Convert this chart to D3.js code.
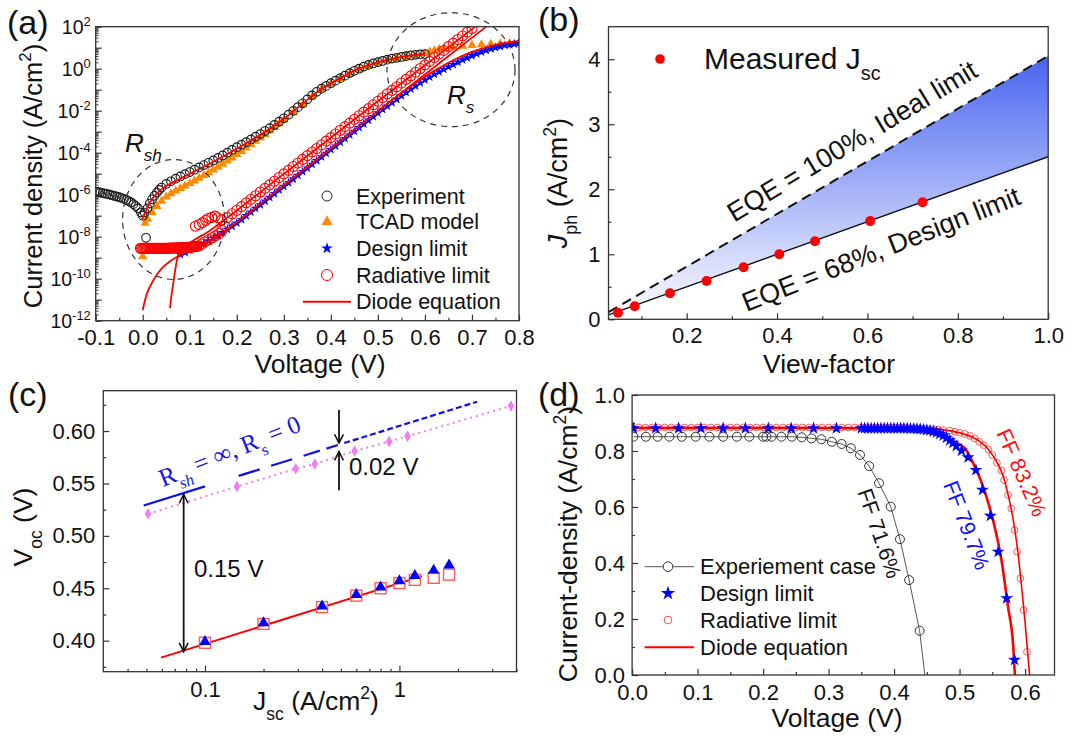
<!DOCTYPE html>
<html>
<head>
<meta charset="utf-8">
<script src="https://cdn.jsdelivr.net/npm/d3@7/dist/d3.min.js"></script>
<style>
  body { margin: 0; background: #fff; }
  svg { display: block; font-family: "Liberation Sans", Arial, sans-serif; }
</style>
</head>
<body>
<svg id="fig" width="1071" height="736"></svg>
<script>
// ---------- (a) dark J-V, values are [V, log10 J(A/cm2)] ----------
const experimentA = [
  [-0.1,-5.85],[-0.095,-5.87],[-0.09,-5.9],[-0.085,-5.92],[-0.08,-5.95],[-0.075,-5.97],[-0.07,-6.0],[-0.065,-6.03],
  [-0.06,-6.06],[-0.055,-6.09],[-0.05,-6.12],[-0.045,-6.16],[-0.04,-6.2],[-0.035,-6.25],[-0.03,-6.3],[-0.025,-6.37],
  [-0.02,-6.45],[-0.015,-6.54],[-0.01,-6.65],[-0.004,-6.85],[0.0,-7.0],[0.007,-8.05],
  [0.004,-6.85],[0.01,-6.65],[0.015,-6.42],[0.02,-6.22],[0.025,-6.05],[0.03,-5.9],[0.035,-5.77],[0.04,-5.66],
  [0.05,-5.49],[0.06,-5.36],[0.07,-5.24],
  [0.08,-5.13],[0.09,-5.02],[0.1,-4.92],[0.11,-4.81],[0.12,-4.7],[0.13,-4.59],[0.14,-4.48],[0.15,-4.37],
  [0.16,-4.25],[0.17,-4.13],[0.18,-4.0],[0.19,-3.87],[0.2,-3.74],[0.21,-3.62],[0.22,-3.5],[0.23,-3.37],
  [0.24,-3.24],[0.25,-3.11],[0.26,-2.97],[0.27,-2.83],[0.28,-2.68],[0.29,-2.52],[0.3,-2.36],[0.31,-2.19],
  [0.32,-2.01],[0.33,-1.83],[0.34,-1.65],[0.35,-1.46],[0.36,-1.27],[0.37,-1.1],[0.38,-0.95],[0.39,-0.82],
  [0.4,-0.69],[0.41,-0.57],[0.42,-0.45],[0.43,-0.33],[0.44,-0.21],[0.45,-0.1],[0.46,0.0],[0.47,0.1],
  [0.48,0.18],[0.49,0.25],[0.5,0.31],[0.51,0.37],[0.52,0.43],[0.53,0.48],[0.54,0.52],[0.55,0.56],
  [0.56,0.6],[0.57,0.63],[0.58,0.66],[0.59,0.68],[0.6,0.7]
]
const tcadA = [
  [0.0,-8.95],[0.005,-7.35],[0.01,-7.15],[0.02,-6.85],[0.03,-6.55],[0.04,-6.3],[0.05,-6.1],[0.06,-5.95],
  [0.07,-5.82],[0.08,-5.7],[0.09,-5.58],[0.1,-5.46],[0.11,-5.34],[0.12,-5.21],[0.13,-5.08],[0.14,-4.95],
  [0.15,-4.82],[0.16,-4.68],[0.17,-4.54],[0.18,-4.39],[0.19,-4.24],[0.2,-4.08],[0.21,-3.93],[0.22,-3.77],
  [0.23,-3.61],[0.24,-3.45],[0.25,-3.29],[0.26,-3.13],[0.27,-2.96],[0.28,-2.79],[0.29,-2.62],[0.3,-2.45],
  [0.32,-2.09],[0.34,-1.71],[0.36,-1.33],[0.38,-0.99],[0.4,-0.72],[0.42,-0.48],[0.44,-0.25],[0.46,-0.04],
  [0.48,0.13],[0.5,0.28],[0.52,0.4],[0.54,0.5],[0.56,0.58],[0.58,0.65],[0.6,0.72],[0.61,0.8],[0.62,0.86],
  [0.63,0.92],[0.64,0.96],[0.66,1.03],[0.68,1.08],[0.7,1.12],[0.72,1.15],[0.74,1.17],[0.76,1.19],[0.78,1.2],[0.8,1.21]
]
const designA = [
  [0.08,-8.85],[0.09,-8.75],[0.1,-8.65],[0.11,-8.55],[0.12,-8.45],[0.13,-8.33],[0.14,-8.2],[0.15,-8.08],
  [0.16,-7.95],[0.17,-7.8],[0.18,-7.65],[0.19,-7.5],[0.2,-7.35],[0.21,-7.18],[0.22,-7.0],[0.23,-6.83],
  [0.24,-6.65],[0.25,-6.48],[0.26,-6.3],[0.27,-6.13],[0.28,-5.95],[0.29,-5.78],[0.3,-5.6],[0.31,-5.43],
  [0.32,-5.25],[0.33,-5.08],[0.34,-4.9],[0.35,-4.73],[0.36,-4.55],[0.37,-4.38],[0.38,-4.2],[0.39,-4.03],
  [0.4,-3.85],[0.41,-3.68],[0.42,-3.5],[0.43,-3.33],[0.44,-3.15],[0.45,-2.98],[0.46,-2.8],[0.47,-2.63],
  [0.48,-2.45],[0.49,-2.28],[0.5,-2.1],[0.51,-1.94],[0.52,-1.78],[0.53,-1.61],[0.54,-1.45],[0.55,-1.29],
  [0.56,-1.13],[0.57,-0.97],[0.58,-0.82],[0.59,-0.67],[0.6,-0.53],[0.61,-0.4],[0.62,-0.27],[0.63,-0.15],
  [0.64,-0.03],[0.65,0.09],[0.66,0.2],[0.67,0.31],[0.68,0.42],[0.69,0.52],[0.7,0.62],[0.71,0.71],
  [0.72,0.8],[0.73,0.88],[0.74,0.95],[0.75,1.01],[0.76,1.06],[0.77,1.11],[0.78,1.15],[0.79,1.18],[0.8,1.21]
]
const radiativeA = [
  [-0.005,-8.55],[-0.0025,-8.55],[0.0,-8.55],[0.0025,-8.55],[0.005,-8.55],[0.0075,-8.55],[0.01,-8.55],
  [0.0125,-8.55],[0.015,-8.55],[0.0175,-8.55],[0.02,-8.55],[0.0225,-8.55],[0.025,-8.55],[0.0275,-8.55],
  [0.03,-8.55],[0.0325,-8.55],[0.035,-8.55],[0.0375,-8.55],[0.04,-8.55],[0.0425,-8.55],[0.045,-8.55],
  [0.0475,-8.55],[0.05,-8.55],[0.0525,-8.55],[0.055,-8.55],[0.0575,-8.54],[0.06,-8.54],[0.0625,-8.54],
  [0.065,-8.54],[0.0675,-8.54],[0.07,-8.54],[0.0725,-8.53],[0.075,-8.53],[0.0775,-8.53],[0.08,-8.53],
  [0.0825,-8.52],[0.085,-8.52],[0.0875,-8.52],[0.09,-8.52],[0.0925,-8.51],[0.095,-8.51],[0.0975,-8.5],
  [0.1,-8.5],[0.1025,-8.49],[0.105,-8.49],[0.1075,-8.48],[0.11,-8.48],[0.1125,-8.47],[0.115,-8.46],[0.12,-8.44],
  [0.125,-8.35],[0.132,-8.25],[0.14,-8.15],[0.148,-8.05],[0.155,-7.95],[0.162,-7.85],[0.168,-7.7],[0.175,-7.5],
  [0.112,-7.5],[0.12,-7.42],[0.127,-7.33],[0.134,-7.22],[0.14,-7.12],[0.147,-7.08],[0.154,-7.02],[0.16,-7.1],[0.168,-7.2],
  [0.18,-7.09],[0.19,-6.91],[0.2,-6.74],[0.21,-6.57],[0.22,-6.39],[0.23,-6.22],[0.24,-6.05],[0.25,-5.87],
  [0.26,-5.7],[0.27,-5.53],[0.28,-5.36],[0.29,-5.18],[0.3,-5.01],[0.31,-4.84],[0.32,-4.66],[0.33,-4.49],
  [0.34,-4.32],[0.35,-4.14],[0.36,-3.97],[0.37,-3.8],[0.38,-3.63],[0.39,-3.45],[0.4,-3.28],[0.41,-3.11],
  [0.42,-2.93],[0.43,-2.76],[0.44,-2.59],[0.45,-2.41],[0.46,-2.24],[0.47,-2.07],[0.48,-1.9],[0.49,-1.72],
  [0.5,-1.55],[0.51,-1.38],[0.52,-1.2],[0.53,-1.03],[0.54,-0.86],[0.55,-0.68],[0.56,-0.51],[0.57,-0.34],
  [0.58,-0.17],[0.59,0.01],[0.6,0.18],[0.61,0.35],[0.62,0.53],[0.63,0.7],[0.64,0.87],[0.65,1.05],
  [0.66,1.22],[0.67,1.39],[0.68,1.56],[0.69,1.74],[0.7,1.91]
]
const diodeFitA = [
  [-0.002,-7.2],[0.005,-6.85],[0.012,-6.5],[0.02,-6.2],[0.03,-5.95],[0.045,-5.65],[0.066,-5.4],[0.1,-5.0],
  [0.14,-4.55],[0.18,-4.06],[0.22,-3.55],[0.26,-3.0],[0.3,-2.38],[0.34,-1.66],[0.38,-0.97],[0.42,-0.45],
  [0.46,0.0],[0.5,0.31],[0.54,0.52],[0.57,0.63],[0.6,0.7]
]
const diodeRadA = [
  [0.058,-11.4],[0.061,-10.8],[0.064,-10.35],[0.068,-9.75],[0.072,-9.2],[0.078,-8.75],[0.09,-8.45],
  [0.11,-8.15],[0.14,-7.75],[0.18,-7.09],[0.3,-5.01],[0.5,-1.55],[0.707,2.0]
]
const diodeDesignA = [
  [0.0,-11.5],[0.004,-11.1],[0.009,-10.7],[0.016,-10.35],[0.023,-10.06],[0.033,-9.72],[0.044,-9.43],
  [0.058,-9.17],[0.073,-8.95],[0.087,-8.78],[0.101,-8.63],[0.12,-8.45],[0.137,-8.28],[0.16,-7.95],
  [0.2,-7.3],[0.3,-5.55],[0.4,-3.8],[0.5,-2.02],[0.6,-0.28],[0.73,2.0]
]
const diodeRsA = [
  [0.5,-2.02],[0.54,-1.33],[0.58,-0.68],[0.62,-0.1],[0.66,0.4],[0.7,0.8],[0.74,1.08],[0.78,1.26],[0.8,1.32]
]
const legendA = ["Experiment", "TCAD model", "Design limit", "Radiative limit", "Diode equation"]
const decadesA = [-12, -11, -10, -9, -8, -7, -6, -5, -4, -3, -2, -1, 0, 1, 2]

// ---------- (b) photocurrent vs view-factor ----------
const viewFactor = [0.048, 0.085, 0.163, 0.244, 0.326, 0.405, 0.484, 0.606, 0.722]
const jscMeasured = [0.1, 0.2, 0.4, 0.59, 0.8, 1.0, 1.2, 1.51, 1.8]
const idealLine = [[0.027, 0.11], [1.0, 4.05]]
const designLine = [[0.027, 0.068], [1.0, 2.5]]

// ---------- (c) Voc vs Jsc ----------
const jscC = [0.1, 0.2, 0.4, 0.6, 0.8, 1.0, 1.2, 1.5, 1.8]
const vocTriangle = [0.399, 0.417, 0.433, 0.444, 0.451, 0.457, 0.462, 0.467, 0.472]
const vocSquare = [0.398, 0.416, 0.432, 0.443, 0.45, 0.455, 0.458, 0.46, 0.463]
const jscDiamond = [0.051, 0.146, 0.293, 0.367, 0.588, 0.885, 1.1, 3.75]
const vocDiamond = [0.521, 0.547, 0.564, 0.5685, 0.581, 0.59, 0.595, 0.624]
const idealFitC = [[0.0484, 0.529], [2.51, 0.628]]
const diodeFitC = [[0.0594, 0.3838], [1.305, 0.4616]]
// pieces of the ideal line: [Jsc from, Jsc to, dash]
const idealPiecesC = [[0.0484, 0.1, null], [0.149, 0.34, "22,12"], [0.34, 0.52, "12,7"], [0.52, 2.51, "6,3"]]

// ---------- (d) J-V under illumination ----------
const experimentD = [
  [0.002,0.851],[0.021,0.851],[0.039,0.851],[0.057,0.851],[0.076,0.851],[0.097,0.851],[0.118,0.851],
  [0.139,0.851],[0.16,0.851],[0.179,0.851],[0.2,0.851],[0.205,0.851],[0.213,0.851],[0.228,0.851],
  [0.244,0.851],[0.259,0.849],[0.274,0.845],[0.289,0.842],[0.305,0.833],[0.32,0.825],[0.334,0.81],
  [0.348,0.786],[0.362,0.746],[0.377,0.685],[0.395,0.601],[0.409,0.485],[0.423,0.339],[0.439,0.158]
]
const experimentEndD = [0.447, 0.0]
const designD = [
  [0.002,0.881],[0.036,0.881],[0.071,0.881],[0.105,0.881],[0.139,0.881],[0.173,0.881],[0.208,0.881],
  [0.243,0.881],[0.277,0.881],[0.312,0.881],
  [0.35,0.881],[0.355,0.881],[0.36,0.881],[0.365,0.881],[0.37,0.881],[0.375,0.881],[0.38,0.881],
  [0.385,0.881],[0.39,0.881],[0.395,0.881],[0.4,0.881],[0.405,0.881],[0.41,0.881],[0.415,0.881],
  [0.42,0.881],[0.425,0.88],[0.43,0.88],[0.435,0.879],[0.44,0.878],[0.445,0.877],[0.45,0.875],
  [0.455,0.873],[0.46,0.87],[0.465,0.866],[0.47,0.861],[0.475,0.855],[0.48,0.847],[0.485,0.838],
  [0.49,0.829],[0.495,0.818],
  [0.503,0.801],[0.513,0.777],[0.525,0.732],[0.535,0.661],[0.547,0.568],[0.559,0.44],[0.572,0.274],[0.584,0.054]
]
const radiativeD = [
  [0.0,0.884],[0.01,0.884],[0.02,0.884],[0.03,0.884],[0.04,0.884],[0.05,0.884],[0.06,0.884],[0.07,0.884],
  [0.08,0.884],[0.09,0.884],[0.1,0.884],[0.11,0.884],[0.12,0.884],[0.13,0.884],[0.14,0.884],[0.15,0.884],
  [0.16,0.884],[0.17,0.884],[0.18,0.884],[0.19,0.884],[0.2,0.884],[0.21,0.884],[0.22,0.884],[0.23,0.884],
  [0.24,0.884],[0.25,0.884],[0.26,0.884],[0.27,0.884],[0.28,0.884],[0.29,0.884],[0.3,0.884],[0.31,0.884],
  [0.32,0.884],[0.33,0.884],[0.34,0.884],[0.35,0.884],[0.36,0.884],[0.37,0.884],[0.38,0.884],[0.39,0.884],
  [0.4,0.884],[0.41,0.884],[0.42,0.883],[0.43,0.882],[0.44,0.881],[0.45,0.88],[0.46,0.878],[0.467,0.877],
  [0.475,0.875],[0.485,0.873],[0.493,0.869],[0.5,0.865],[0.508,0.861],[0.516,0.854],[0.523,0.845],
  [0.53,0.833],[0.537,0.821],[0.544,0.806],[0.55,0.786],[0.557,0.758],[0.564,0.73],[0.568,0.696],
  [0.574,0.643],[0.579,0.595],[0.584,0.518],[0.588,0.44],[0.593,0.345],[0.598,0.232],[0.603,0.083]
]
const diodeDesignD = [
  [0.0,0.882],[0.3,0.882],[0.42,0.88],[0.46,0.87],[0.49,0.835],[0.508,0.81],[0.521,0.756],[0.536,0.673],
  [0.551,0.554],[0.564,0.411],[0.574,0.244],[0.582,0.101],[0.5845,0.0]
]
const diodeRadD = [
  [0.0,0.884],[0.45,0.883],[0.48,0.874],[0.5,0.865],[0.52,0.849],[0.531,0.834],[0.544,0.806],[0.557,0.76],
  [0.566,0.715],[0.574,0.645],[0.58,0.58],[0.585,0.51],[0.59,0.42],[0.595,0.31],[0.6,0.19],[0.604,0.08],[0.607,0.0]
]
const legendD = ["Experiement case", "Design limit", "Radiative limit", "Diode equation"]
const fillFactors = [["FF 71.6%", 0.378, 0.506, 71, "#111"], ["FF 79.7%", 0.511, 0.535, 69, "#1010ff"], ["FF 83.2%", 0.595, 0.723, 66, "#ff1010"]]

//////////////////////////////////////////////////////////////////////////

const svg = d3.select("#fig")
const ink = "#111"
const FONT = '"Liberation Sans", Arial, sans-serif'
const RED = "#ff0000", BLUE = "#0000ff", ORANGE = "#ff8a00", VIOLET = "#f07ef0"
const TICK = 22, TITLE = 26.5

svg.append("rect").attr("width", 1071).attr("height", 736).attr("fill", "#fff")
const defs = svg.append("defs")

function rich (sel, fs, parts) {
  let shift = 0
  for (const [t, mode, style] of parts) {
    const off = mode === "sup" ? -0.42 * fs : mode === "sub" ? 0.36 * fs : 0
    const ts = sel.append("tspan").attr("dy", off - shift).text(t)
    if (mode) ts.attr("font-size", fs * 0.66)
    if (style) ts.attr("font-style", style)
    shift = off
  }
  return sel
}

const fmt = f => d => d3.format(f)(d).replace("\u2212", "-")

function axis (g, gen, tr) {
  const a = g.append("g").attr("transform", tr).call(gen)
    .attr("font-family", FONT).attr("font-size", TICK)
  a.select(".domain").remove()
  a.selectAll(".tick line").attr("stroke", "#333").attr("stroke-width", 1.2)
  a.selectAll(".tick text").attr("fill", ink)
  return a
}

function frame (g, b) {
  g.append("rect").attr("x", b.l).attr("y", b.t).attr("width", b.r - b.l).attr("height", b.b - b.t)
    .attr("fill", "none").attr("stroke", "#333").attr("stroke-width", 1.3)
}

function clip (id, b) {
  defs.append("clipPath").attr("id", id).append("rect")
    .attr("x", b.l).attr("y", b.t).attr("width", b.r - b.l).attr("height", b.b - b.t)
  return "url(#" + id + ")"
}

function title (g, x, y, fs, parts, rot) {
  const t = g.append("text").attr("x", x).attr("y", y).attr("font-size", fs)
    .attr("text-anchor", "middle").attr("fill", ink)
  if (rot) t.attr("transform", `rotate(${rot},${x},${y})`)
  return rich(t, fs, parts)
}

function panelLabel (x, y, s) {
  svg.append("text").attr("x", x).attr("y", y).attr("font-size", 34).attr("fill", ink).text(s)
}

const star = s => d3.symbol().type(d3.symbolStar).size(s)()
const tri = s => d3.symbol().type(d3.symbolTriangle).size(s)()

// =============================== (a) ===============================
{
  const b = {l: 95.7, r: 519, t: 26.7, b: 320.7}
  const x = d3.scaleLinear().domain([-0.1, 0.8]).range([b.l, b.r])
  const y = d3.scaleLog().domain([1e-12, 1e2]).range([b.b, b.t])
  const g = svg.append("g")
  const px = d => x(d[0]), py = d => y(10 ** d[1])

  axis(g, d3.axisBottom(x).tickValues(d3.range(-1, 9).map(i => i / 10)).tickFormat(fmt(".1f"))
    .tickSize(-6).tickPadding(9), `translate(0,${b.b})`)
  axis(g, d3.axisBottom(x).tickValues(d3.range(-1, 8).map(i => i / 10 + 0.05)).tickFormat("")
    .tickSize(-3), `translate(0,${b.b})`)
  axis(g, d3.axisLeft(y).tickValues(decadesA.map(e => 10 ** e)).tickFormat("").tickSize(-6), `translate(${b.l},0)`)
  const minorA = decadesA.slice(0, -1).flatMap(e => [2, 3, 4, 5, 6, 7, 8, 9].map(m => m * 10 ** e))
  axis(g, d3.axisLeft(y).tickValues(minorA).tickFormat("").tickSize(-3), `translate(${b.l},0)`)
    .selectAll(".tick line").attr("stroke-width", 0.9)
  decadesA.filter(e => e % 2 === 0).forEach(e => {
    const t = g.append("text").attr("x", b.l - 5).attr("y", y(10 ** e) + 7)
      .attr("text-anchor", "end").attr("font-size", 19.5).attr("fill", ink)
    rich(t, 19.5, [["10"], [String(e), "sup"]])
  })

  const c = g.append("g").attr("clip-path", clip("clipA", b))
  c.append("g").selectAll("path").data(tcadA).join("path")
    .attr("d", tri(38)).attr("fill", ORANGE)
    .attr("transform", d => `translate(${px(d)},${py(d)})`)
  c.append("g").selectAll("circle").data(experimentA).join("circle")
    .attr("cx", px).attr("cy", py).attr("r", 4.3)
    .attr("fill", "none").attr("stroke", "#1a1a1a").attr("stroke-width", 1.15)
  c.append("g").selectAll("path").data(designA).join("path")
    .attr("d", star(30)).attr("fill", BLUE)
    .attr("transform", d => `translate(${px(d)},${py(d)})`)
  c.append("g").selectAll("circle").data(radiativeA).join("circle")
    .attr("cx", px).attr("cy", py).attr("r", 5)
    .attr("fill", "none").attr("stroke", RED).attr("stroke-width", 1.1)
  const line = d3.line().x(px).y(py).curve(d3.curveMonotoneX)
  for (const s of [diodeFitA, diodeRadA, diodeDesignA, diodeRsA]) {
    c.append("path").datum(s).attr("d", line).attr("fill", "none").attr("stroke", RED).attr("stroke-width", 1.8)
  }

  // dashed guide ellipses
  g.append("ellipse").attr("cx", 173.6).attr("cy", 219.5).attr("rx", 51).attr("ry", 60)
    .attr("fill", "none").attr("stroke", "#333").attr("stroke-width", 1.2).attr("stroke-dasharray", "6,5")
  g.append("ellipse").attr("cx", 451).attr("cy", 69.7).attr("rx", 64).attr("ry", 57)
    .attr("fill", "none").attr("stroke", "#333").attr("stroke-width", 1.2).attr("stroke-dasharray", "6,5")
  rich(g.append("text").attr("x", 125).attr("y", 152).attr("font-size", 26).attr("font-style", "italic").attr("fill", ink),
    26, [["R"], ["sh", "sub"]])
  rich(g.append("text").attr("x", 447).attr("y", 104).attr("font-size", 26).attr("font-style", "italic").attr("fill", ink),
    26, [["R"], ["s", "sub"]])

  // legend
  const rows = [196, 221.7, 248.3, 275, 301.7]
  const lg = g.append("g")
  lg.append("circle").attr("cx", 327).attr("cy", rows[0]).attr("r", 5).attr("fill", "none").attr("stroke", "#222")
  lg.append("path").attr("d", tri(55)).attr("fill", ORANGE).attr("transform", `translate(327,${rows[1]})`)
  lg.append("path").attr("d", star(42)).attr("fill", BLUE).attr("transform", `translate(327,${rows[2]})`)
  lg.append("circle").attr("cx", 327).attr("cy", rows[3]).attr("r", 5.5).attr("fill", "none").attr("stroke", RED)
  lg.append("line").attr("x1", 303).attr("x2", 351).attr("y1", rows[4]).attr("y2", rows[4]).attr("stroke", RED).attr("stroke-width", 2)
  lg.selectAll("text").data(legendA).join("text")
    .attr("x", 356).attr("y", (d, i) => rows[i] + 7.5).attr("font-size", 21.5).attr("fill", ink).text(d => d)

  frame(g, b)
  title(g, 320, 373, TITLE, [["Voltage (V)"]])
  title(g, 42, 176, 25.5, [["Current density (A/cm"], ["2", "sup"], [")"]], -90)
  panelLabel(7, 34, "(a)")
}

// =============================== (b) ===============================
{
  const b = {l: 608.5, r: 1048.2, t: 26.7, b: 319.3}
  const x = d3.scaleLinear().domain([0.027, 1.0]).range([b.l, b.r])
  const y = d3.scaleLinear().domain([0, 4.5]).range([b.b, b.t])
  const g = svg.append("g")

  axis(g, d3.axisBottom(x).tickValues([0.2, 0.4, 0.6, 0.8, 1.0]).tickFormat(d3.format(".1f"))
    .tickSize(-6).tickPadding(8), `translate(0,${b.b})`)
  axis(g, d3.axisBottom(x).tickValues([0.1, 0.3, 0.5, 0.7, 0.9]).tickFormat("").tickSize(-3), `translate(0,${b.b})`)
  axis(g, d3.axisLeft(y).tickValues([0, 1, 2, 3, 4]).tickFormat(d3.format("d"))
    .tickSize(-6).tickPadding(8), `translate(${b.l},0)`)
  axis(g, d3.axisLeft(y).tickValues([0.5, 1.5, 2.5, 3.5]).tickFormat("").tickSize(-3), `translate(${b.l},0)`)

  const grad = defs.append("linearGradient").attr("id", "gradB").attr("gradientUnits", "userSpaceOnUse")
    .attr("x1", 0).attr("x2", 0).attr("y1", y(4.05)).attr("y2", y(0))
  grad.append("stop").attr("offset", 0).attr("stop-color", "#4865f0")
  grad.append("stop").attr("offset", 1).attr("stop-color", "#ffffff")

  const band = idealLine.map((d, i) => ({x: d[0], hi: d[1], lo: designLine[i][1]}))
  const c = g.append("g").attr("clip-path", clip("clipB", b))
  c.append("path").datum(band)
    .attr("d", d3.area().x(d => x(d.x)).y0(d => y(d.lo)).y1(d => y(d.hi)))
    .attr("fill", "url(#gradB)")
  const line = d3.line().x(d => x(d[0])).y(d => y(d[1]))
  c.append("path").datum(idealLine).attr("d", line).attr("fill", "none").attr("stroke", "#111")
    .attr("stroke-width", 2).attr("stroke-dasharray", "10,6")
  c.append("path").datum(designLine).attr("d", line).attr("fill", "none").attr("stroke", "#111").attr("stroke-width", 1.4)
  c.selectAll("circle").data(viewFactor).join("circle")
    .attr("cx", d => x(d)).attr("cy", (d, i) => y(jscMeasured[i])).attr("r", 5).attr("fill", RED)

  g.append("circle").attr("cx", 660).attr("cy", 59).attr("r", 4.8).attr("fill", RED)
  rich(g.append("text").attr("x", 704).attr("y", 69).attr("font-size", 30).attr("fill", ink), 30,
    [["Measured J"], ["sc", "sub"]])
  g.append("text").attr("x", 852).attr("y", 141).attr("dy", "0.35em").attr("text-anchor", "middle")
    .attr("font-size", 27).attr("fill", ink).attr("transform", "rotate(-31,852,141)")
    .text("EQE = 100%, Ideal limit")
  g.append("text").attr("x", 881).attr("y", 249).attr("dy", "0.35em").attr("text-anchor", "middle")
    .attr("font-size", 27).attr("fill", ink).attr("transform", "rotate(-21.5,881,249)")
    .text("EQE = 68%, Design limit")

  frame(g, b)
  title(g, 829, 373, TITLE, [["View-factor"]])
  title(g, 567, 183, 27, [["J", null, "italic"], ["ph", "sub"], [" (A/cm"], ["2", "sup"], [")"]], -90)
  panelLabel(538, 31, "(b)")
}

// =============================== (c) ===============================
{
  const b = {l: 103.3, r: 516.5, t: 390.7, b: 671.7}
  const x = d3.scaleLog().domain([0.03, 4]).range([b.l, b.r])
  const y = d3.scaleLinear().domain([0.3704, 0.6385]).range([b.b, b.t])
  const g = svg.append("g")

  axis(g, d3.axisBottom(x).tickValues([0.1, 1]).tickFormat(d3.format("~g"))
    .tickSize(-6).tickPadding(10), `translate(0,${b.b})`)
  axis(g, d3.axisBottom(x).tickValues([0.04, 0.05, 0.06, 0.07, 0.08, 0.09, 0.2, 0.3, 0.4, 0.5, 0.6, 0.7, 0.8, 0.9, 2, 3, 4])
    .tickFormat("").tickSize(-3), `translate(0,${b.b})`)
  axis(g, d3.axisLeft(y).tickValues([0.4, 0.45, 0.5, 0.55, 0.6]).tickFormat(d3.format(".2f"))
    .tickSize(-6).tickPadding(8), `translate(${b.l},0)`)
  axis(g, d3.axisLeft(y).tickValues([0.375, 0.425, 0.475, 0.525, 0.575, 0.625]).tickFormat("").tickSize(-3), `translate(${b.l},0)`)

  const line = d3.line().x(d => x(d[0])).y(d => y(d[1]))
  // ideal (no resistive loss) line, drawn in pieces
  const [p0, p1] = idealFitC
  const vAt = j => p0[1] + (p1[1] - p0[1]) * Math.log(j / p0[0]) / Math.log(p1[0] / p0[0])
  for (const [j0, j1, dash] of idealPiecesC) {
    const p = g.append("path").datum([[j0, vAt(j0)], [j1, vAt(j1)]]).attr("d", line)
      .attr("fill", "none").attr("stroke", "#1010ee").attr("stroke-width", 2.2)
    if (dash) p.attr("stroke-dasharray", dash)
  }
  const diamonds = jscDiamond.map((j, i) => [j, vocDiamond[i]])
  g.append("path").datum(diamonds).attr("d", line).attr("fill", "none").attr("stroke", VIOLET)
    .attr("stroke-width", 2).attr("stroke-dasharray", "2,4")
  g.append("g").selectAll("path").data(diamonds).join("path")
    .attr("d", d3.symbol().type(d3.symbolDiamond).size(38)()).attr("fill", VIOLET)
    .attr("transform", d => `translate(${x(d[0])},${y(d[1])})`)

  g.append("path").datum(diodeFitC).attr("d", line).attr("fill", "none").attr("stroke", RED).attr("stroke-width", 2)
  g.append("g").selectAll("rect").data(jscC).join("rect")
    .attr("x", d => x(d) - 5.5).attr("y", (d, i) => y(vocSquare[i]) - 5.5).attr("width", 11).attr("height", 11)
    .attr("fill", "#fff").attr("fill-opacity", 0.6).attr("stroke", "#ff5a5a").attr("stroke-width", 1.4)
  g.append("g").selectAll("path").data(jscC).join("path")
    .attr("d", tri(58)).attr("fill", BLUE)
    .attr("transform", (d, i) => `translate(${x(d)},${y(vocTriangle[i])})`)

  // arrows
  const mk = defs.append("marker").attr("id", "chev").attr("viewBox", "0 0 10 10")
    .attr("refX", 9).attr("refY", 5).attr("markerWidth", 11).attr("markerHeight", 11)
    .attr("markerUnits", "userSpaceOnUse").attr("orient", "auto-start-reverse")
  mk.append("path").attr("d", "M1,1 L9,5 L1,9").attr("fill", "none").attr("stroke", "#111").attr("stroke-width", 1.4)
  const arrow = (j, v0, v1, both) => {
    const l = g.append("line").attr("x1", x(j)).attr("x2", x(j)).attr("y1", y(v0)).attr("y2", y(v1))
      .attr("stroke", "#111").attr("stroke-width", 1.8).attr("marker-end", "url(#chev)")
    if (both) l.attr("marker-start", "url(#chev)")
  }
  arrow(0.0777, 0.5395, 0.3895, true)
  arrow(0.489, 0.62, 0.5885, false)
  arrow(0.489, 0.5435, 0.5805, false)
  g.append("text").attr("x", 194).attr("y", 577).attr("font-size", 24).attr("fill", ink).text("0.15 V")
  g.append("text").attr("x", 349).attr("y", 475).attr("font-size", 24).attr("fill", ink).text("0.02 V")

  const rt = g.append("text").attr("x", 163).attr("y", 487).attr("font-size", 25)
    .attr("font-family", '"Liberation Serif", "Times New Roman", serif').attr("fill", "#1515e6")
    .attr("transform", "rotate(-22,163,487)")
  rich(rt, 25, [["R"], ["sh", "sub", "italic"], [" = ∞, R"], ["s", "sub"], [" = 0"]])

  frame(g, b)
  title(g, 316, 710, TITLE, [["J"], ["sc", "sub"], [" (A/cm"], ["2", "sup"], [")"]])
  title(g, 32, 527, TITLE, [["V"], ["oc", "sub"], [" (V)"]], -90)
  panelLabel(8, 406, "(c)")
}

// =============================== (d) ===============================
{
  const b = {l: 632.1, r: 1054.5, t: 395, b: 675}
  const x = d3.scaleLinear().domain([0, 0.645]).range([b.l, b.r])
  const y = d3.scaleLinear().domain([0, 1]).range([b.b, b.t])
  const g = svg.append("g")

  axis(g, d3.axisBottom(x).tickValues([0, 0.1, 0.2, 0.3, 0.4, 0.5, 0.6]).tickFormat(d3.format(".1f"))
    .tickSize(-6).tickPadding(9), `translate(0,${b.b})`)
  axis(g, d3.axisBottom(x).tickValues([0.05, 0.15, 0.25, 0.35, 0.45, 0.55]).tickFormat("").tickSize(-3), `translate(0,${b.b})`)
  axis(g, d3.axisLeft(y).tickValues([0, 0.2, 0.4, 0.6, 0.8, 1.0]).tickFormat(d3.format(".1f"))
    .tickSize(-6).tickPadding(7), `translate(${b.l},0)`)
  axis(g, d3.axisLeft(y).tickValues([0.1, 0.3, 0.5, 0.7, 0.9]).tickFormat("").tickSize(-3), `translate(${b.l},0)`)

  const line = d3.line().x(d => x(d[0])).y(d => y(d[1]))
  const c = g.append("g").attr("clip-path", clip("clipD", b))
  c.append("path").datum(experimentD.concat([experimentEndD])).attr("d", line)
    .attr("fill", "none").attr("stroke", "#555").attr("stroke-width", 1)
  c.append("g").selectAll("circle").data(experimentD).join("circle")
    .attr("cx", d => x(d[0])).attr("cy", d => y(d[1])).attr("r", 4.5)
    .attr("fill", "none").attr("stroke", "#333").attr("stroke-width", 1)
  c.append("g").selectAll("circle").data(radiativeD).join("circle")
    .attr("cx", d => x(d[0])).attr("cy", d => y(d[1])).attr("r", 3.4)
    .attr("fill", "none").attr("stroke", "#ff4a4a").attr("stroke-width", 0.9)
  c.append("path").datum(diodeRadD).attr("d", line.curve(d3.curveMonotoneX))
    .attr("fill", "none").attr("stroke", RED).attr("stroke-width", 1.6)
  c.append("path").datum(diodeDesignD).attr("d", line.curve(d3.curveMonotoneX))
    .attr("fill", "none").attr("stroke", RED).attr("stroke-width", 2.6)
  c.append("g").selectAll("path").data(designD).join("path")
    .attr("d", star(52)).attr("fill", BLUE)
    .attr("transform", d => `translate(${x(d[0])},${y(d[1])})`)

  fillFactors.forEach(([s, v, j, rot, col]) => {
    const cx = x(v), cy = y(j)
    g.append("text").attr("x", cx).attr("y", cy).attr("dy", "0.35em").attr("text-anchor", "middle")
      .attr("font-size", 21.5).attr("fill", col).attr("transform", `rotate(${rot},${cx},${cy})`).text(s)
  })

  const rows = [566.7, 593.3, 620, 647.3]
  const lg = g.append("g")
  lg.append("line").attr("x1", 644.6).attr("x2", 693.9).attr("y1", rows[0]).attr("y2", rows[0]).attr("stroke", "#555")
  lg.append("circle").attr("cx", 668).attr("cy", rows[0]).attr("r", 4.8).attr("fill", "#fff").attr("stroke", "#333")
  lg.append("path").attr("d", star(64)).attr("fill", BLUE).attr("transform", `translate(668,${rows[1]})`)
  lg.append("circle").attr("cx", 668).attr("cy", rows[2]).attr("r", 3.8).attr("fill", "none").attr("stroke", "#ff4a4a")
  lg.append("line").attr("x1", 644.6).attr("x2", 693.9).attr("y1", rows[3]).attr("y2", rows[3]).attr("stroke", RED).attr("stroke-width", 2)
  lg.selectAll("text").data(legendD).join("text")
    .attr("x", 700).attr("y", (d, i) => rows[i] + 7.5).attr("font-size", 22).attr("fill", ink).text(d => d)

  frame(g, b)
  title(g, 837, 727, TITLE, [["Voltage (V)"]])
  title(g, 577, 544, 26.5, [["Current-density (A/cm"], ["2", "sup"], [")"]], -90)
  panelLabel(538, 406, "(d)")
}
</script>
</body>
</html>
